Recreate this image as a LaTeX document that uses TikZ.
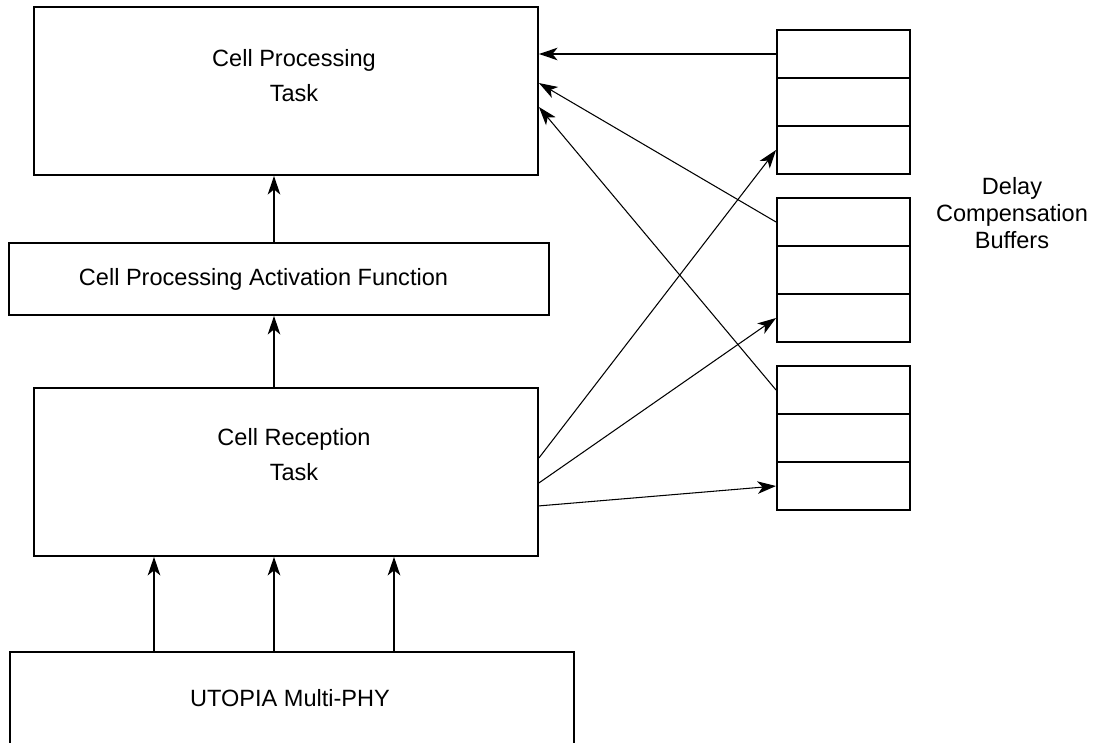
\documentclass[tikz,border=0pt]{standalone}
\usepackage{fontspec}
\setmainfont{Liberation Sans}
\usetikzlibrary{positioning,arrows.meta}

\begin{document}
\begin{tikzpicture}[
        box/.style={draw, rectangle, line width=1.1pt, inner sep=0pt,
            minimum width=10.08cm, minimum height=3.36cm},
        txt/.style={align=center, inner sep=0pt,
            font=\fontsize{13.4pt}{19.9pt}\selectfont},
        cell/.style={draw, rectangle, line width=1.1pt, inner sep=0pt,
            minimum width=2.66cm, minimum height=0.96cm},
        stackarrow/.style={-{Stealth[length=0.37cm, width=0.25cm, inset=0.1cm]}, line width=1.1pt},
        feed/.style={-{Stealth[length=0.37cm, width=0.25cm, inset=0.1cm]}, line width=0.6pt}
    ]
        \useasboundingbox (0,0) rectangle (21.86,-14.84);
        \clip (0,0) rectangle (21.86,-14.84);

        % task stack
        \node[box] (proc) at (5.72,-1.82) {};
        \node[box, minimum width=10.8cm, minimum height=1.44cm] (act) [below=1.32cm of proc, xshift=-0.14cm] {};
        \node[box] (recv) [below=1.42cm of act, xshift=0.14cm] {};
        \node[box, minimum width=11.28cm] (utopia) [below=1.88cm of recv, xshift=0.12cm] {};

        \node[txt] (proctext) at ([xshift=0.16cm, yshift=0.31cm]proc.center) {Cell Processing\\Task};
        \node[txt] (acttext) at ([xshift=-0.31cm]act.center) {Cell Processing Activation Function};
        \node[txt] (recvtext) at ([xshift=0.16cm, yshift=0.35cm]recv.center) {Cell Reception\\Task};
        \node[txt] (utopiatext) at ([xshift=-0.04cm, yshift=-0.94cm]utopia.north) {UTOPIA Multi-PHY};

        % delay compensation buffers
        \foreach \b/\ytop in {1/-1.08, 2/-4.44, 3/-7.80} {
            \foreach \c in {1,2,3} {
                \node[cell] (buf\b-\c) at (16.87,{\ytop-0.96*(\c-1)}) {};
            }
        }
        \node[txt, font=\fontsize{13.4pt}{15.4pt}\selectfont] (delaytext) at (20.24,-4.26) {Delay\\Compensation\\Buffers};

        \draw[stackarrow] ([xshift=-0.1cm]act.north) -- ([xshift=-0.1cm]act.north |- proc.south);
        \draw[stackarrow] ([xshift=-0.24cm]recv.north) -- ([xshift=-0.24cm]recv.north |- act.south);
        \foreach \dx in {-2.76,-0.36,2.04}
            \draw[stackarrow] ([xshift=\dx cm]utopia.north) -- ([xshift=\dx cm]utopia.north |- recv.south);

        \draw[stackarrow, line width=0.9pt] (buf1-1.west) -- (buf1-1.west -| proc.east);
        \draw[feed] (buf2-1.west) -- ([yshift=-1.54cm]proc.north east);
        \draw[feed] (buf3-1.west) -- ([yshift=-2.02cm]proc.north east);
        \draw[feed] ([yshift=-1.42cm]recv.north east) -- (buf1-3.west);
        \draw[feed] ([yshift=-1.92cm]recv.north east) -- (buf2-3.west);
        \draw[feed] ([yshift=-2.38cm]recv.north east) -- (buf3-3.west);
    \end{tikzpicture}
\end{document}
